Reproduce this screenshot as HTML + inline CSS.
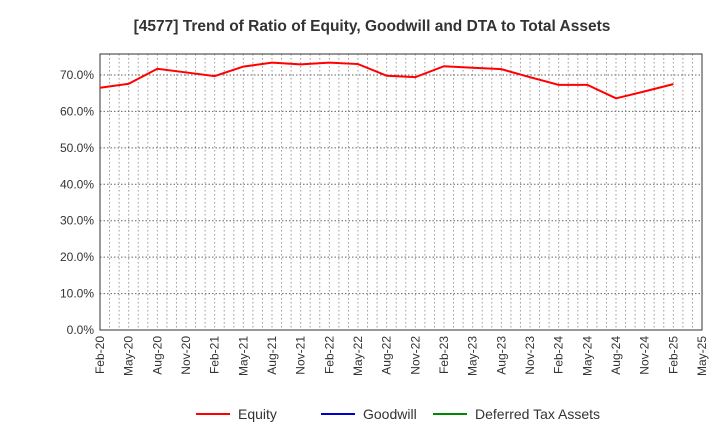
<!DOCTYPE html>
<html><head><meta charset="utf-8"><style>
body{margin:0;background:#fff;font-family:"Liberation Sans",sans-serif}
svg text{font-family:"Liberation Sans",sans-serif}
</style></head><body>
<svg id="c" width="720" height="440"></svg>
<script>
const categories=["Feb-20","May-20","Aug-20","Nov-20","Feb-21","May-21","Aug-21","Nov-21","Feb-22","May-22","Aug-22","Nov-22","Feb-23","May-23","Aug-23","Nov-23","Feb-24","May-24","Aug-24","Nov-24","Feb-25","May-25"];
const equity=[66.5,67.6,71.7,70.7,69.7,72.3,73.4,72.9,73.4,73.0,69.8,69.4,72.4,72.0,71.6,69.4,67.3,67.3,63.6,65.5,67.5];
const yTicks=[0,10,20,30,40,50,60,70];
const ns="http://www.w3.org/2000/svg";
const svg=document.getElementById('c');
const L=100,R=702,T=54,B=330,pp=3.643;
const x=i=>L+i*(R-L)/(categories.length-1);
const y=v=>B-v*pp;
function mk(t,a,p){const e=document.createElementNS(ns,t);for(const k in a)e.setAttribute(k,a[k]);(p||svg).appendChild(e);return e;}
const title=mk('text',{x:372,y:31,'text-anchor':'middle','font-size':15.5,'font-weight':'bold',fill:'#333'});
title.textContent="[4577]  Trend of Ratio of Equity, Goodwill and DTA to Total Assets";


const months=(categories.length-1)*3;
for(let m=1;m<months;m++){const xx=L+m*(R-L)/months;
const g=mk('line',{x1:xx,x2:xx,y1:T,y2:B,stroke:'#999','stroke-dasharray':'1.5,2.5','stroke-width':1});

}
yTicks.forEach(v=>{
if(v>0){const g=mk('line',{x1:L,x2:R,y1:y(v),y2:y(v),stroke:'#666','stroke-dasharray':'1.5,2','stroke-width':1});

}
const t=mk('text',{x:L-6,y:y(v)+4,'text-anchor':'end','font-size':12,fill:'#333'});t.textContent=v.toFixed(1)+'%';


});
const fr=mk('rect',{x:L,y:T,width:R-L,height:B-T,fill:'none',stroke:'#333','stroke-width':1});


categories.forEach((c,i)=>{const t=mk('text',{transform:`translate(${x(i)+4},${B+6}) rotate(-90)`,'text-anchor':'end','font-size':12,fill:'#333'});t.textContent=c;

});
const ln=mk('polyline',{points:equity.map((v,i)=>x(i)+','+y(v)).join(' '),fill:'none',stroke:'#f00','stroke-width':2});


const leg=[["Equity","#f00",196],["Goodwill","#00c",321],["Deferred Tax Assets","#080",433]];
leg.forEach(([n,c,lx])=>{const g=mk('g',{});


mk('line',{x1:lx,x2:lx+34,y1:414,y2:414,stroke:c,'stroke-width':2},g);
const t=mk('text',{x:lx+42,y:419,'font-size':14,fill:'#333'},g);t.textContent=n;});
</script></body></html>
